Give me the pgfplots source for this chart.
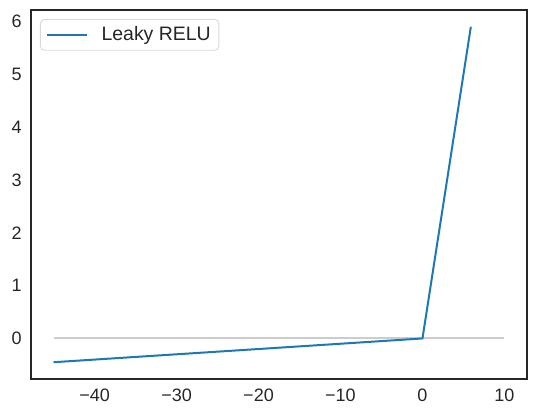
\documentclass[border=0pt]{standalone}
\usepackage{pgfplots}
\pgfplotsset{compat=1.18}
\usepackage{fontspec}
\setmainfont{Liberation Sans}
\definecolor{mplblue}{HTML}{1F77B4}
\definecolor{axisgray}{HTML}{262626}
\begin{document}
\begin{tikzpicture}
\begin{axis}[
  width=372pt, height=276.75pt, scale only axis,
  xmin=-47.75, xmax=12.75, ymin=-0.7675, ymax=6.2175,
  xtick={-40,-30,-20,-10,0,10},
  xticklabels={−40,−30,−20,−10,0,10},
  ytick={0,1,2,3,4,5,6},
  major tick length=0pt,
  axis line style={draw=axisgray, line width=1.05pt},
  ticklabel style={font=\fontsize{13.5}{16}\selectfont, text=axisgray},
  /pgf/number format/assume math mode=true,
  xticklabel style={yshift=-3.6pt},
  yticklabel style={xshift=-3.4pt},
  legend style={at={(rel axis cs:0,1)}, anchor=north west,
    xshift=6.75pt, yshift=-6.75pt,
    draw=black!15, rounded corners=3pt, line width=0.7pt,
    font=\fontsize{14.6}{17}\selectfont, text=axisgray,
    inner xsep=4pt, inner ysep=3.5pt},
  legend cell align=left,
  legend image code/.code={\draw[#1] (0pt,0pt) -- (30.3pt,0pt);},
]
\addplot[black!20, line width=1.5pt, forget plot] coordinates {(-45,0) (10,0)};
\addplot[mplblue, line width=1.5pt] coordinates {(-45,-0.45) (0,0) (5.9,5.9)};
\addlegendentry{\hspace{8pt}Leaky RELU\hspace{2pt}}
\end{axis}
\path ([shift={(-23.25pt,-28.5pt)}]current axis.south west) rectangle ([shift={(6.75pt,7.5pt)}]current axis.north east);
\end{tikzpicture}
\end{document}
